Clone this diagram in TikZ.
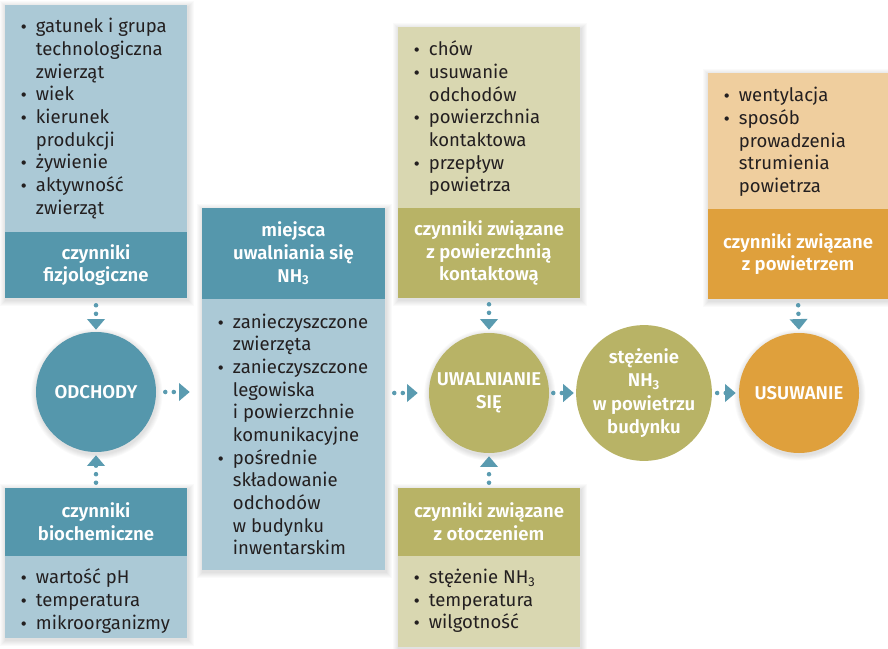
\documentclass[tikz,border=0pt]{standalone}
\usepackage{fontspec}
\setmainfont{Fira Sans}[BoldFont={Fira Sans SemiBold}]
\newfontfamily\dvsans{DejaVu Sans}
\usetikzlibrary{arrows.meta,backgrounds}
\definecolor{bD}{RGB}{85,151,172}
\definecolor{bL}{RGB}{171,201,214}
\definecolor{oD}{RGB}{184,179,102}
\definecolor{oL}{RGB}{217,215,177}
\definecolor{yD}{RGB}{223,160,60}
\definecolor{yL}{RGB}{239,206,158}
\definecolor{arr}{RGB}{90,155,176}
\definecolor{txt}{RGB}{35,31,32}
\newcommand\bul{\makebox[11pt][l]{\raisebox{0.22em}{\dvsans\fontsize{4.2}{5}\selectfont ●}}}
\newcommand\ind{\hspace*{11pt}}
\newcommand\shrect[2]{\foreach \s in {1,...,6}{\fill[black,opacity=0.018] ([xshift=-\s*0.7pt+0.6pt,yshift=\s*0.7pt-1.5pt]#1) rectangle ([xshift=\s*0.7pt+0.6pt,yshift=-\s*0.7pt-1.5pt]#2);}}
\newcommand\shcirc[1]{\foreach \s in {1,...,6}{\fill[black,opacity=0.018] ([xshift=0.6pt,yshift=-1.5pt]#1.center) circle ({45pt+\s*0.7pt});}}
\tikzset{
  part/.style={draw=none, inner sep=0pt, rectangle},
  hd/.style={part, text=white, align=center, font=\fontsize{13.9}{17}\selectfont\bfseries},
  lst/.style={inner sep=0pt, anchor=west, align=left, text=txt, font=\fontsize{13.9}{17}\selectfont},
  circ/.style={circle, minimum size=90pt, inner sep=0pt, text=white, align=center, font=\fontsize{13.9}{17.5}\selectfont\bfseries},
  conn/.style={draw=arr, line width=3.4pt, dash pattern=on 0pt off 6.4pt, line cap=round,
    -{Triangle[width=13pt,length=8pt,fill=arr]}}
}
\begin{document}
\begin{tikzpicture}[x=0.75pt,y=-0.75pt]
\useasboundingbox (0,0) rectangle (888,649);
% box 1: fizjologiczne
\node[part, fill=bL, minimum width=136.5pt, minimum height=170.25pt] (fizL) at (96,118.5) {};
\node[hd, fill=bD, minimum width=136.5pt, minimum height=49.5pt] (fizD) at (96,265) {czynniki\\fizjologiczne};
\node[lst] (fizT) at (21,118.5) {\bul gatunek i grupa\\\ind technologiczna\\\ind zwierząt\\\bul wiek\\\bul kierunek\\\ind produkcji\\\bul żywienie\\\bul aktywność\\\ind zwierząt};
% box 2: biochemiczne
\node[hd, fill=bD, minimum width=136.5pt, minimum height=51pt] (bioD) at (96,522) {czynniki\\biochemiczne};
\node[part, fill=bL, minimum width=136.5pt, minimum height=61.5pt] (bioL) at (96,597) {};
\node[lst] (bioT) at (21,601) {\bul wartość pH\\\bul temperatura\\\bul mikroorganizmy};
% box 3: miejsca
\node[hd, fill=bD, minimum width=137.25pt, minimum height=68.25pt] (miejD) at (293.5,253.5) {miejsca\\uwalniania się\\NH\textsubscript{3}};
\node[part, fill=bL, minimum width=137.25pt, minimum height=203.25pt] (miejL) at (293.5,434.5) {};
\node[lst] (miejT) at (218,434.5) {\bul zanieczyszczone\\\ind zwierzęta\\\bul zanieczyszczone\\\ind legowiska\\\ind i powierzchnie\\\ind komunikacyjne\\\bul pośrednie\\\ind składowanie\\\ind odchodów\\\ind w budynku\\\ind inwentarskim};
% box 4: powierzchnia
\node[part, fill=oL, minimum width=136.5pt, minimum height=135.75pt] (powL) at (489,117.5) {};
\node[hd, fill=oD, minimum width=136.5pt, minimum height=67.5pt] (powD) at (489,253) {czynniki związane\\z powierzchnią\\kontaktową};
\node[lst] (powT) at (414,118.5) {\bul chów\\\bul usuwanie\\\ind odchodów\\\bul powierzchnia\\\ind kontaktowa\\\bul przepływ\\\ind powietrza};
% box 5: otoczenie
\node[hd, fill=oD, minimum width=136.5pt, minimum height=51pt] (otoD) at (489,522) {czynniki związane\\z otoczeniem};
\node[part, fill=oL, minimum width=136.5pt, minimum height=68.25pt] (otoL) at (489,601.5) {};
\node[lst] (otoT) at (414,601) {\bul stężenie NH\textsubscript{3}\\\bul temperatura\\\bul wilgotność};
% box 6: powietrze
\node[part, fill=yL, minimum width=135pt, minimum height=102pt] (wenL) at (798,141) {};
\node[hd, fill=yD, minimum width=135pt, minimum height=67.5pt] (wenD) at (798,254) {czynniki związane\\z powietrzem};
\node[lst] (wenT) at (724,142) {\bul wentylacja\\\bul sposób\\\ind prowadzenia\\\ind strumienia\\\ind powietrza};
% circles
\node[circ, fill=bD] (odch) at (96,392) {ODCHODY};
\node[circ, fill=oD] (uwal) at (489,393) {UWALNIANIE\\SIĘ};
\node[circ, fill=oD] (stez) at (644,393) {stężenie\\NH\textsubscript{3}\\w powietrzu\\budynku};
\node[circ, fill=yD] (usuw) at (799,393) {USUWANIE};
% soft shadows
\begin{scope}[on background layer]
\shrect{fizL.north west}{fizD.south east}
\shrect{bioD.north west}{bioL.south east}
\shrect{miejD.north west}{miejL.south east}
\shrect{powL.north west}{powD.south east}
\shrect{otoD.north west}{otoL.south east}
\shrect{wenL.north west}{wenD.south east}
\shcirc{odch}
\shcirc{uwal}
\shcirc{stez}
\shcirc{usuw}
\end{scope}
% connectors
\draw[conn, shorten <=5.25pt, shorten >=1.5pt] (fizD.south) -- (odch.north);
\draw[conn, shorten <=3.75pt, shorten >=2.25pt] (bioD.north) -- (odch.south);
\draw[conn, shorten <=6.75pt, shorten >=9pt] (odch.east) -- (odch.east -| miejL.west);
\draw[conn, shorten <=6.75pt, shorten >=8.25pt] (uwal.west -| miejL.east) -- (uwal.west);
\draw[conn, shorten <=4.5pt, shorten >=2.25pt] (powD.south) -- (uwal.north);
\draw[conn, shorten <=3.75pt, shorten >=2.25pt] (otoD.north) -- (uwal.south);
\draw[conn, shorten <=3pt, shorten >=1.5pt] (uwal.east) -- (stez.west);
\draw[conn, shorten <=3.75pt, shorten >=2.25pt] (stez.east) -- (usuw.west);
\draw[conn, shorten <=4.5pt, shorten >=2.25pt] (wenD.south) -- (usuw.north);
\end{tikzpicture}
\end{document}
